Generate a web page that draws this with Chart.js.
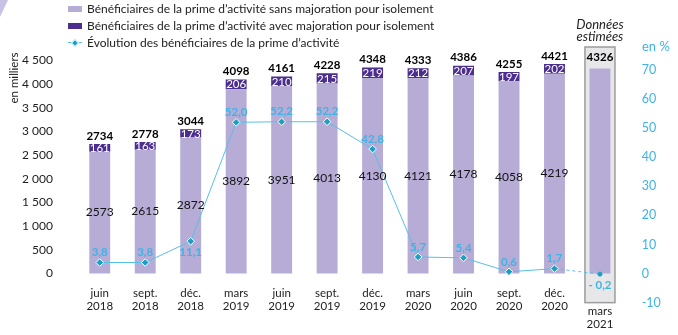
<!DOCTYPE html>
<html lang="fr">
<head>
<meta charset="utf-8">
<script src="https://cdn.jsdelivr.net/npm/chart.js@4/dist/chart.umd.min.js"></script>
<style>
  html, body { margin: 0; padding: 0; background: #fff; }
  #wrap { position: relative; width: 678px; height: 335px; overflow: hidden; }
  #graph { position: absolute; left: 0; top: 0; }
  #legende { position: absolute; left: 68px; top: 0; font: 12px Lato, "Open Sans", sans-serif; color: #222; }
  #legende .item { display: flex; align-items: center; height: 17px; white-space: nowrap; }
  #legende .pave { width: 14px; height: 6px; margin-right: 5px; }
  #legende .trait { position: relative; width: 14px; height: 6px; margin-right: 5px; }
  #legende .trait::before { content: ""; position: absolute; left: 0; right: 0; top: 2.5px; border-top: 1px solid #55c0e8; }
  #legende .trait::after { content: ""; position: absolute; left: 4px; top: 0.5px; width: 4px; height: 4px; background: #1a9fc6; border: 0.5px solid #fff; transform: rotate(45deg); }
</style>
</head>
<body>
<div id="wrap">
  <canvas id="graph" width="678" height="335"></canvas>
  <div id="legende"></div>
</div>
<script>
// Trimestres (deux lignes par étiquette)
const mois = [
  ['juin', '2018'], ['sept.', '2018'], ['déc.', '2018'],
  ['mars', '2019'], ['juin', '2019'], ['sept.', '2019'], ['déc.', '2019'],
  ['mars', '2020'], ['juin', '2020'], ['sept.', '2020'], ['déc.', '2020'],
  ['mars', '2021']
];
// Bénéficiaires, en milliers
const sansMajoration = [2573, 2615, 2872, 3892, 3951, 4013, 4130, 4121, 4178, 4058, 4219, 4326];
const avecMajoration = [161, 163, 173, 206, 210, 215, 219, 212, 207, 197, 202, null];
const totaux = [2734, 2778, 3044, 4098, 4161, 4228, 4348, 4333, 4386, 4255, 4421, 4326];
// Évolution sur un an, en %
const evolution = [3.8, 3.8, 11.1, 52.0, 52.2, 52.2, 42.8, 5.7, 5.4, 0.6, 1.7, -0.2];
// Graduations des axes
const ticksMilliers = [0, 500, 1000, 1500, 2000, 2500, 3000, 3500, 4000, 4500];
const ticksPct = [-10, 0, 10, 20, 30, 40, 50, 60, 70];

const POLICE = 'Lato, "Open Sans", sans-serif';
const VIOLET_CLAIR = '#b7acd6';
const VIOLET_FONCE = '#4b2e8e';
const BLEU = '#3cb4e6';
const dernier = mois.length - 1;
const etiquettesDessous = [2, dernier];

const fmtMilliers = v => String(v).replace(/\B(?=(\d{3})+(?!\d))/g, ' ');
const fmtPct = v => (v < 0 ? '- ' : '') + Math.abs(v).toFixed(1).replace('.', ',');

// Cadre grisé des données estimées + décor
const cadreEstime = {
  id: 'cadreEstime',
  beforeDatasetsDraw(chart) {
    const c = chart.ctx, x = chart.scales.x.getPixelForValue(dernier);
    const top = chart.chartArea.top, bas = chart.scales.yPct.getPixelForValue(-10);
    c.save();
    c.fillStyle = '#e7e7e9';
    c.strokeStyle = '#9c9c9c';
    c.lineWidth = 1.5;
    c.fillRect(x - 15, top, 30, bas - top);
    c.strokeRect(x - 15, top, 30, bas - top);
    c.fillStyle = '#222';
    c.font = 'italic 13px ' + POLICE;
    c.textAlign = 'center';
    c.textBaseline = 'middle';
    c.fillText('Données', x, 25);
    c.fillText('estimées', x, 37);
    // petit motif en coin
    c.fillStyle = '#c9c1e5';
    c.beginPath();
    c.moveTo(0, 0); c.lineTo(8, 0); c.lineTo(0, 17); c.closePath();
    c.fill();
    c.restore();
  }
};

// Valeurs, mois et titres d'axes
const etiquettes = {
  id: 'etiquettes',
  afterDatasetsDraw(chart) {
    const c = chart.ctx;
    const xs = chart.scales.x, ys = chart.scales.y, yp = chart.scales.yPct;
    const y0 = ys.getPixelForValue(0);
    c.save();
    c.textAlign = 'center';
    c.textBaseline = 'middle';
    mois.forEach((m, i) => {
      const x = xs.getPixelForValue(i);
      // total
      c.fillStyle = '#000';
      c.font = 'bold 11.5px ' + POLICE;
      const haut = ys.getPixelForValue(totaux[i]);
      c.fillText(String(totaux[i]), x, haut - (i === dernier ? 11 : 8));
      // segment avec majoration
      if (avecMajoration[i] != null) {
        const el = chart.getDatasetMeta(2).data[i];
        c.fillStyle = '#fff';
        c.font = '11.5px ' + POLICE;
        c.fillText(String(avecMajoration[i]), x, (el.y + el.base) / 2 + 0.5);
        // segment sans majoration
        const el2 = chart.getDatasetMeta(1).data[i];
        c.fillStyle = '#111';
        c.font = '12px ' + POLICE;
        c.fillText(String(sansMajoration[i]), x, (el2.y + el2.base) / 2);
      }
      // évolution
      const py = yp.getPixelForValue(evolution[i]);
      c.fillStyle = BLEU;
      c.font = 'bold 11.5px ' + POLICE;
      c.fillText(fmtPct(evolution[i]), x, py + (etiquettesDessous.includes(i) ? 11 : -10));
      // mois
      c.fillStyle = '#222';
      c.font = '11.5px ' + POLICE;
      const d = i === dernier ? 37.5 : 19.5;
      c.fillText(m[0], x, y0 + d);
      c.fillText(m[1], x, y0 + d + 13.5);
    });
    // titres d'axes
    c.fillStyle = BLEU;
    c.font = '13px ' + POLICE;
    c.textAlign = 'left';
    c.fillText('en %', 642, 47);
    c.fillStyle = '#222';
    c.font = '11.5px ' + POLICE;
    c.translate(14, 78);
    c.rotate(-Math.PI / 2);
    c.textAlign = 'center';
    c.fillText('en milliers', 0, 0);
    c.restore();
  }
};

const chart = new Chart(document.getElementById('graph'), {
  type: 'bar',
  data: {
    labels: mois,
    datasets: [
      {
        type: 'line',
        label: 'Évolution des bénéficiaires de la prime d’activité',
        data: evolution,
        yAxisID: 'yPct',
        order: 0,
        borderColor: '#55c0e8',
        borderWidth: 1,
        pointStyle: evolution.map((v, i) => i === dernier ? 'circle' : 'rectRot'),
        pointRadius: evolution.map((v, i) => i === dernier ? 2 : 3.8),
        pointBackgroundColor: '#1a9fc6',
        pointBorderColor: evolution.map((v, i) => i === dernier ? '#1a9fc6' : '#fff'),
        pointBorderWidth: 1,
        segment: { borderDash: s => s.p1DataIndex === dernier ? [3, 3] : undefined }
      },
      {
        label: 'Bénéficiaires de la prime d’activité sans majoration pour isolement',
        data: sansMajoration,
        backgroundColor: VIOLET_CLAIR,
        stack: 'benef',
        order: 1,
        yAxisID: 'y',
        categoryPercentage: 1,
        barPercentage: 0.46
      },
      {
        label: 'Bénéficiaires de la prime d’activité avec majoration pour isolement',
        data: avecMajoration,
        backgroundColor: VIOLET_FONCE,
        stack: 'benef',
        order: 2,
        yAxisID: 'y',
        categoryPercentage: 1,
        barPercentage: 0.46
      }
    ]
  },
  options: {
    responsive: false,
    animation: false,
    layout: { padding: { top: 47, bottom: 29, left: 0, right: 0 } },
    plugins: { legend: { display: false }, tooltip: { enabled: false } },
    scales: {
      x: { display: false, stacked: true, offset: true },
      y: {
        position: 'left', stacked: true, min: -638, max: 4782,
        grid: { display: false, drawTicks: false }, border: { display: false },
        afterBuildTicks: s => { s.ticks = ticksMilliers.map(v => ({ value: v })); },
        afterFit: s => { s.width = 77; },
        ticks: { padding: 24, color: '#222', font: { family: POLICE, size: 12 }, callback: v => fmtMilliers(v) }
      },
      yPct: {
        position: 'right', min: -10.4, max: 77.9,
        grid: { display: false, drawTicks: false }, border: { display: false },
        afterBuildTicks: s => { s.ticks = ticksPct.map(v => ({ value: v })); },
        afterFit: s => { s.width = 55.3; },
        ticks: { padding: 19, color: BLEU, font: { family: POLICE, size: 12.5 }, callback: v => String(v) }
      }
    }
  },
  plugins: [cadreEstime, etiquettes]
});

// Légende construite depuis les séries du graphique
const legende = document.getElementById('legende');
[1, 2, 0].forEach(i => {
  const ds = chart.data.datasets[i];
  const item = document.createElement('div');
  item.className = 'item';
  const icone = document.createElement('span');
  if (ds.type === 'line') {
    icone.className = 'trait';
  } else {
    icone.className = 'pave';
    icone.style.background = ds.backgroundColor;
  }
  item.appendChild(icone);
  item.appendChild(document.createTextNode(ds.label));
  legende.appendChild(item);
});
</script>
</body>
</html>
